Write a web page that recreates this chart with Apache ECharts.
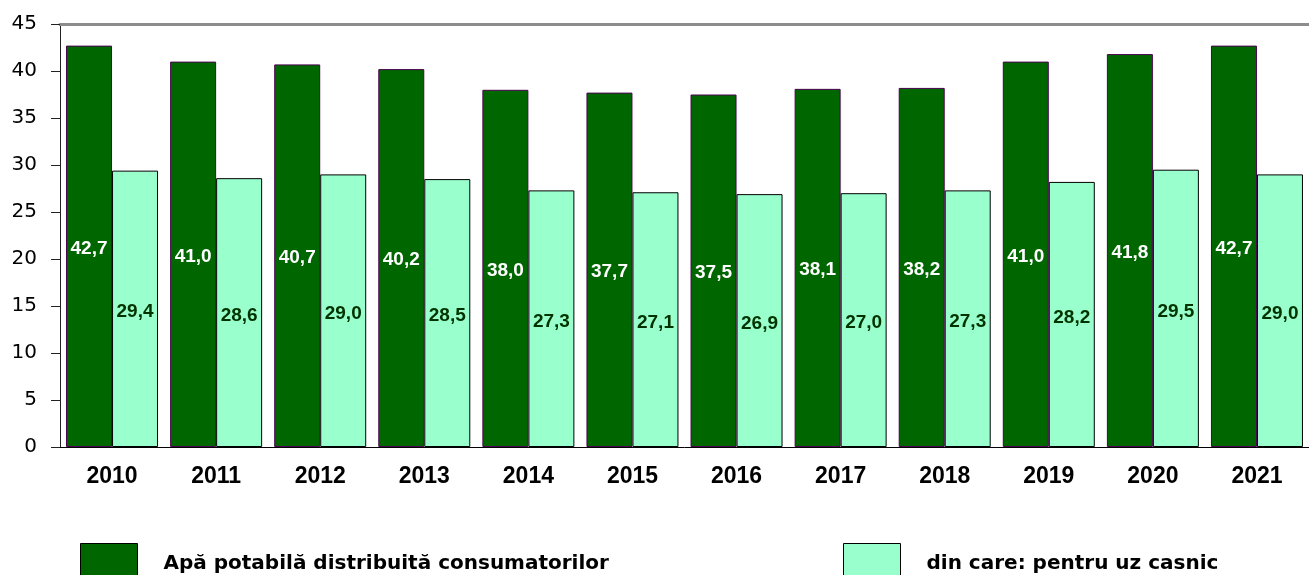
<!DOCTYPE html>
<html>
<head>
<meta charset="utf-8">
<script src="https://cdn.jsdelivr.net/npm/echarts@6/dist/echarts.min.js"></script>
<style>
  html, body { margin: 0; padding: 0; background: #fff; }
  #chart { width: 1309px; height: 575px; }
</style>
</head>
<body>
<div id="chart"></div>
<script>
// date
var years = ['2010', '2011', '2012', '2013', '2014', '2015', '2016', '2017', '2018', '2019', '2020', '2021']
var totalWater = [42.7, 41.0, 40.7, 40.2, 38.0, 37.7, 37.5, 38.1, 38.2, 41.0, 41.8, 42.7]
var householdWater = [29.4, 28.6, 29.0, 28.5, 27.3, 27.1, 26.9, 27.0, 27.3, 28.2, 29.5, 29.0]
var seriesNames = ['Apă potabilă distribuită consumatorilor', 'din care: pentru uz casnic']

var chart = echarts.init(document.getElementById('chart'))
var fmt = function (p) {
  return p.value.toFixed(1).replace('.', ',')
}
var arial = '"Liberation Sans", Arial, sans-serif'
var wide = '"DejaVu Sans", sans-serif'

var legendBase = {
  top: 543,
  padding: 0,
  itemWidth: 57,
  itemHeight: 40,
  icon: 'rect',
  itemStyle: { borderColor: '#000', borderWidth: 1 },
  textStyle: {
    fontFamily: wide,
    fontSize: 20,
    fontWeight: 'bold',
    color: '#000',
    padding: [0, 0, 0, 21]
  }
}

var option = {
  backgroundColor: '#fff',
  animation: false,
  color: ['#006600', '#99ffcc'],
  grid: {
    left: 60,
    top: 24,
    width: 1257,
    height: 423
  },
  legend: [
    Object.assign({}, legendBase, { data: [seriesNames[0]], left: 80 }),
    Object.assign({}, legendBase, { data: [seriesNames[1]], left: 843 })
  ],
  xAxis: [
    {
      type: 'category',
      data: years,
      axisLine: { lineStyle: { color: '#000', width: 1 } },
      axisTick: { length: 6, lineStyle: { color: '#333' } },
      axisLabel: {
        margin: 18,
        fontFamily: arial,
        fontSize: 23,
        fontWeight: 'bold',
        color: '#000'
      }
    },
    {
      // linia gri de sus
      type: 'category',
      position: 'top',
      data: years,
      axisLine: { lineStyle: { color: '#8c8c8c', width: 3 } },
      axisTick: { show: false },
      axisLabel: { show: false }
    }
  ],
  yAxis: {
    type: 'value',
    min: 0,
    max: 45,
    interval: 5,
    axisLine: { show: true, lineStyle: { color: '#222' } },
    axisTick: { show: true, length: 9, lineStyle: { color: '#222' } },
    splitLine: { show: false },
    axisLabel: {
      margin: 23,
      fontFamily: wide,
      fontSize: 20,
      color: '#000'
    }
  },
  series: [
    {
      name: seriesNames[0],
      type: 'bar',
      data: totalWater,
      barWidth: 46,
      barGap: '0',
      itemStyle: { color: '#006600', borderColor: '#4a0050', borderWidth: 1 },
      label: {
        show: true,
        position: 'inside',
        offset: [0, 2],
        formatter: fmt,
        color: '#fff',
        fontFamily: arial,
        fontSize: 19,
        fontWeight: 'bold'
      }
    },
    {
      name: seriesNames[1],
      type: 'bar',
      data: householdWater,
      barWidth: 46,
      barGap: '0',
      itemStyle: { color: '#99ffcc', borderColor: '#000', borderWidth: 1 },
      label: {
        show: true,
        position: 'inside',
        offset: [0, 3],
        formatter: fmt,
        color: '#003300',
        fontFamily: arial,
        fontSize: 19,
        fontWeight: 'bold'
      }
    }
  ]
}
chart.setOption(option)
</script>
</body>
</html>
